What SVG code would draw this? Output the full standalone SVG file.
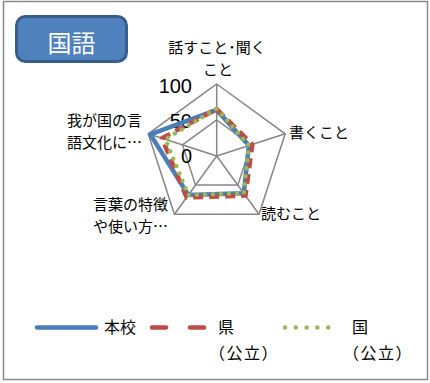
<svg xmlns="http://www.w3.org/2000/svg" width="430" height="383" viewBox="0 0 430 383">
<style>
text{font-family:"Noto Sans CJK JP","Liberation Sans",sans-serif;fill:#000}
.ax{font-size:15px}
.num{font-family:"Liberation Sans",Arial,sans-serif;font-size:20px}
.lg{font-size:16px}
.par{letter-spacing:1.5px}
.grid{fill:none;stroke:#868686;stroke-width:1.5}
.s{fill:none;stroke-width:4.5;stroke-linejoin:round}
</style>
<rect x="3.5" y="1.5" width="424" height="378" fill="#fff" stroke="#898989" stroke-width="1.5"/>
<g id="title">
<rect x="16.5" y="16.5" width="110" height="45" rx="9" fill="#4f81bd" stroke="#385d8a" stroke-width="3"/>
<text x="71.5" y="52" font-size="24" text-anchor="middle" style="fill:#fff">国語</text>
</g>
<g id="grid">
<polygon class="grid" points="216.7,84 285.2,133.8 259,214.2 174.4,214.2 148.2,133.8"/>
<polygon class="grid" points="216.7,120 250.94,144.88 237.86,185.12 195.54,185.12 182.46,144.88"/>
<path class="grid" d="M216.7,156V84M216.7,156L285.2,133.8M216.7,156L259,214.2M216.7,156L174.4,214.2M216.7,156L148.2,133.8"/>
</g>
<g id="axis-labels">
<text class="ax" x="217" y="53" text-anchor="middle">話すこと･聞く</text>
<text class="ax" x="218" y="75" text-anchor="middle">こと</text>
<text class="ax" x="289" y="138">書くこと</text>
<text class="ax" x="261" y="219">読むこと</text>
<text class="ax" x="142" y="126" text-anchor="end">我が国の言</text>
<text class="ax" x="142" y="148" text-anchor="end">語文化に…</text>
<text class="ax" x="93" y="210">言葉の特徴</text>
<text class="ax" x="93" y="232">や使い方…</text>
</g>
<g id="scale">
<text class="num" x="192" y="93" text-anchor="end">100</text>
<text class="num" x="192" y="128" text-anchor="end">50</text>
<text class="num" x="192" y="163" text-anchor="end">0</text>
</g>
<g id="connectors">
<polygon id="s-honkou" class="s" stroke="#4a7ebb" points="216.7,109.9 248.9,145.5 243.8,193.3 188.3,195 150.3,134.4"/>
<polygon id="s-ken" class="s" stroke="#be4b48" stroke-dasharray="10 6" points="216.7,109.2 252.3,144.4 245.5,195.6 186.6,197.4 161.9,138.2"/>
<polygon id="s-kuni" class="s" stroke="#98b954" stroke-linecap="round" stroke-dasharray="0 8" points="216.7,108.5 248.9,145.5 243.8,193.3 188.3,195 165.3,139.3"/>
</g>
<g id="legend">
<line x1="37" y1="327.5" x2="96" y2="327.5" stroke="#4a7ebb" stroke-width="4.5" stroke-linecap="round"/>
<text class="lg" x="104" y="333">本校</text>
<line x1="152" y1="327.5" x2="204" y2="327.5" stroke="#be4b48" stroke-width="4.5" stroke-linecap="round" stroke-dasharray="14 24"/>
<text class="lg" x="218" y="333">県</text>
<text class="lg par" x="209" y="359">（公立）</text>
<line x1="285" y1="327.5" x2="339" y2="327.5" stroke="#98b954" stroke-width="4.5" stroke-linecap="round" stroke-dasharray="0 10.8"/>
<text class="lg" x="352" y="333">国</text>
<text class="lg par" x="343" y="359">（公立）</text>
</g>
</svg>
